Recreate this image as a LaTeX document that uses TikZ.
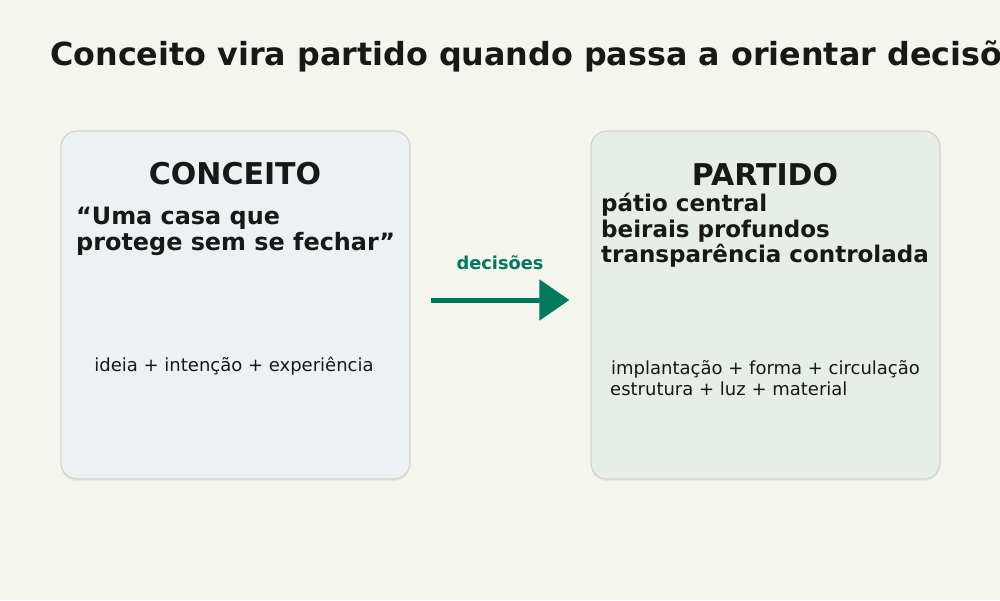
\documentclass[tikz,border=0pt]{standalone}
\usepackage{fontspec}
\setmainfont{DejaVu Sans}
\usetikzlibrary{arrows.meta}
\definecolor{bg}{RGB}{245,245,240}
\definecolor{ink}{RGB}{24,24,22}
\definecolor{leftfill}{RGB}{237,241,244}
\definecolor{rightfill}{RGB}{231,238,232}
\definecolor{edge}{RGB}{214,210,202}
\definecolor{accent}{RGB}{0,122,90}
\tikzset{
  card/.style={draw=edge, line width=1.2pt, rounded corners=16pt, minimum width=349pt, minimum height=348pt, inner sep=0pt},
  shade/.style={fill=black, opacity=0.05, rounded corners=16pt, minimum width=349pt, minimum height=348pt, inner sep=0pt, draw=none},
  heading/.style={font=\fontsize{30}{34}\selectfont\bfseries, text=ink, inner sep=0pt, anchor=base},
  bigtext/.style={font=\fontsize{23}{27}\selectfont\bfseries, text=ink, inner sep=0pt, anchor=base west},
  smalltext/.style={font=\fontsize{18}{22}\selectfont, text=ink, inner sep=0pt},
  flow/.style={draw=accent, line width=5pt, -{Triangle[length=30pt,width=40pt]}},
}
\begin{document}
\begin{tikzpicture}[x=1pt,y=-1pt]
\fill[bg] (0,0) rectangle (1000,600);
\useasboundingbox (0,0) rectangle (1000,600);
\clip (0,0) rectangle (1000,600);
\node[font=\fontsize{31.8}{36}\selectfont\bfseries, text=ink, anchor=base west, inner sep=0pt] (title) at (50,65) {Conceito vira partido quando passa a orientar decisões};
% cards
\node[shade] (lsh) at (235.5,307) {};
\node[shade] (rsh) at (765.5,307) {};
\node[card, fill=leftfill] (left) at (235.5,305) {};
\node[card, fill=rightfill] (right) at (765.5,305) {};
\node[heading] (lh) at (235,184.5) {CONCEITO};
\node[heading] (rh) at (765,185) {PARTIDO};
\node[bigtext, font=\fontsize{23.9}{27}\selectfont\bfseries] (quote1) at (76,224.5) {“Uma casa que};
\node[bigtext, font=\fontsize{23.9}{27}\selectfont\bfseries] (quote2) at (76,250) {protege sem se fechar”};
\node[bigtext] (item1) at (601,211.5) {pátio central};
\node[bigtext] (item2) at (601,237) {beirais profundos};
\node[bigtext] (item3) at (601,262) {transparência controlada};
\node[smalltext, anchor=base] (lsmall) at (234,371) {ideia + intenção + experiência};
\node[smalltext, anchor=base west] (rsmall1) at (611,374.5) {implantação + forma + circulação};
\node[smalltext, anchor=base west] (rsmall2) at (610,395) {estrutura + luz + material};
% arrow
\draw[flow, shorten <=20pt, shorten >=21pt] ([yshift=5pt]left.east) -- ([yshift=5pt]right.west);
\node[font=\fontsize{17.8}{20}\selectfont\bfseries, text=accent, anchor=base, inner sep=0pt] (dec) at (500,269) {decisões};
\end{tikzpicture}
\end{document}
